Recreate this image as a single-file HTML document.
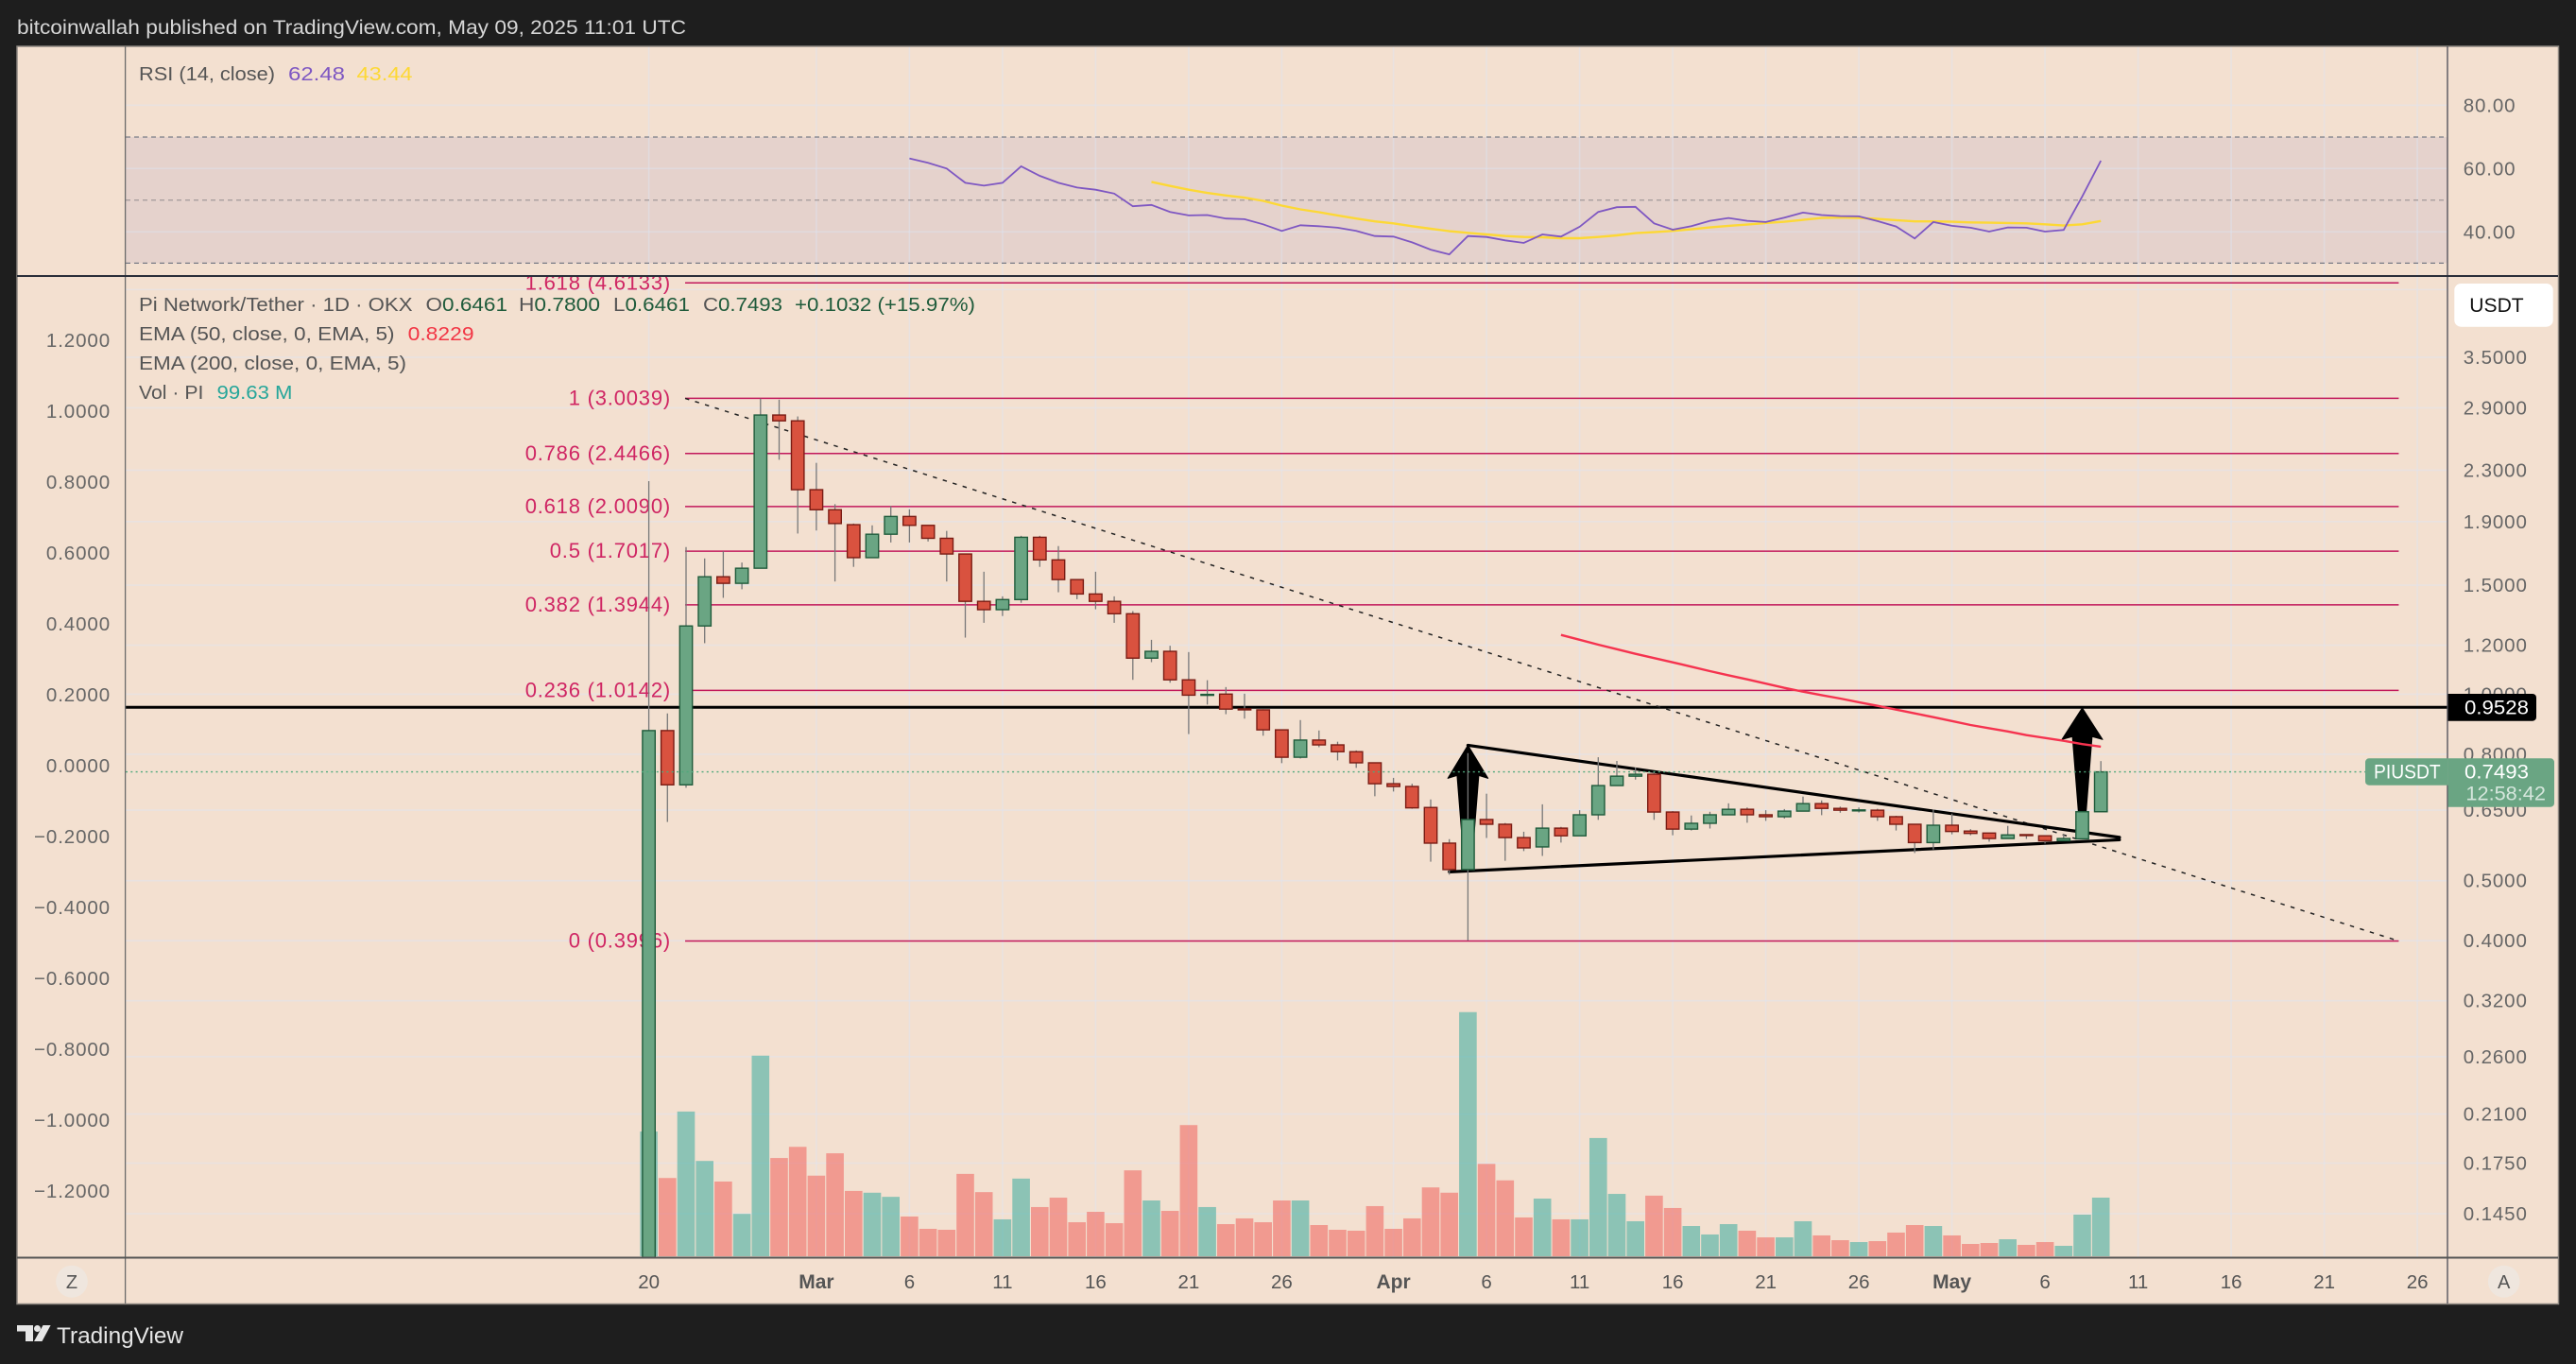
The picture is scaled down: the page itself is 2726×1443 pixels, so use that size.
<!DOCTYPE html>
<html lang="en">
<head>
<meta charset="utf-8">
<title>PIUSDT chart</title>
<style>
html,body{margin:0;padding:0;background:#1e1e1e;width:2726px;height:1443px;overflow:hidden}
svg{display:block;font-family:"Liberation Sans",sans-serif}
.leg{font-size:20.5px;fill:#555}
.ax{font-size:20.5px;fill:#666;letter-spacing:.9px}
</style>
</head>
<body>
<svg id="chart" xmlns="http://www.w3.org/2000/svg" width="2726" height="1443" viewBox="0 0 2726 1443">
  <defs><clipPath id="mainClip"><rect x="133" y="293" width="2457" height="1037"/></clipPath></defs>
  <rect x="0" y="0" width="2726" height="1443" fill="#1e1e1e"/>
  <text x="18" y="36" font-size="21.5" fill="#d6d6d6" textLength="708" lengthAdjust="spacingAndGlyphs">bitcoinwallah published on TradingView.com, May 09, 2025 11:01 UTC</text>
  <rect x="18" y="49" width="2689.5" height="1330.5" fill="#f3e0d0" stroke="#8c8680" stroke-width="1.5"/>
  <rect x="133" y="145" width="2457" height="133.5" fill="#e5d2cc"/>
  <g id="gridLayer"></g>
  <line x1="133" x2="2590" y1="145" y2="145" stroke="#787b86" stroke-width="1.3" stroke-dasharray="5 4"/>
  <line x1="133" x2="2590" y1="211.7" y2="211.7" stroke="#a89e9e" stroke-width="1.3" stroke-dasharray="5 4"/>
  <line x1="133" x2="2590" y1="278.4" y2="278.4" stroke="#787b86" stroke-width="1.3" stroke-dasharray="5 4"/>
  <g id="rsiLayer"></g>
  <g clip-path="url(#mainClip)">
    <g id="volLayer"></g>
    <g id="drawLayer"></g>
    <g id="candleLayer"></g>
    <line id="lastLine" x1="133" x2="2590" stroke="#4fa87c" stroke-width="1.3" stroke-dasharray="2 3.3"/>
  </g>
  <line x1="132.6" x2="132.6" y1="49" y2="1379" stroke="#6b6b6b" stroke-width="1.3"/>
  <line x1="2590" x2="2590" y1="49" y2="1379" stroke="#4a4a55" stroke-width="1.3"/>
  <line x1="18" x2="2707" y1="292" y2="292" stroke="#2a2e39" stroke-width="2"/>
  <line x1="18" x2="2707" y1="1330.5" y2="1330.5" stroke="#555" stroke-width="2"/>
  <g id="axisLayer"></g>

  <text class="leg" x="147" y="85" textLength="144" lengthAdjust="spacingAndGlyphs">RSI (14, close)</text>
  <text class="leg" x="305" y="85" style="fill:#7e57c2" textLength="60" lengthAdjust="spacingAndGlyphs">62.48</text>
  <text class="leg" x="377.5" y="85" style="fill:#fdd835" textLength="59" lengthAdjust="spacingAndGlyphs">43.44</text>
  <text class="leg" x="147" y="329" textLength="289.5" lengthAdjust="spacingAndGlyphs">Pi Network/Tether · 1D · OKX</text>
  <text class="leg" x="450.5" y="329" textLength="86.5" lengthAdjust="spacingAndGlyphs">O<tspan fill="#1f5b3b">0.6461</tspan></text>
  <text class="leg" x="549" y="329" textLength="86" lengthAdjust="spacingAndGlyphs">H<tspan fill="#1f5b3b">0.7800</tspan></text>
  <text class="leg" x="649" y="329" textLength="81" lengthAdjust="spacingAndGlyphs">L<tspan fill="#1f5b3b">0.6461</tspan></text>
  <text class="leg" x="744" y="329" textLength="84" lengthAdjust="spacingAndGlyphs">C<tspan fill="#1f5b3b">0.7493</tspan></text>
  <text class="leg" x="841" y="329" style="fill:#1f5b3b" textLength="191" lengthAdjust="spacingAndGlyphs">+0.1032 (+15.97%)</text>
  <text class="leg" x="147" y="360" textLength="270.5" lengthAdjust="spacingAndGlyphs">EMA (50, close, 0, EMA, 5)</text>
  <text class="leg" x="431.6" y="360" style="fill:#f23645" textLength="70" lengthAdjust="spacingAndGlyphs">0.8229</text>
  <text class="leg" x="147" y="391" textLength="283" lengthAdjust="spacingAndGlyphs">EMA (200, close, 0, EMA, 5)</text>
  <text class="leg" x="147" y="422" textLength="68.4" lengthAdjust="spacingAndGlyphs">Vol · PI</text>
  <text class="leg" x="229.5" y="422" style="fill:#26a69a" textLength="80" lengthAdjust="spacingAndGlyphs">99.63 M</text>

  <rect x="2597.3" y="300" width="104.4" height="45.7" rx="7" fill="#ffffff"/>
  <text x="2613.3" y="330" font-size="21" fill="#111" textLength="57.4" lengthAdjust="spacingAndGlyphs">USDT</text>

  <path d="M2590.6 734H2680a4 4 0 0 1 4 4V758.7a4 4 0 0 1 -4 4H2590.6Z" fill="#000"/>
  <text x="2608" y="755.5" font-size="21" fill="#fff" textLength="68" lengthAdjust="spacingAndGlyphs">0.9528</text>
  <path d="M2590.6 802.3H2507a4 4 0 0 0 -4 4V826.7a4 4 0 0 0 4 4H2590.6Z" fill="#6aa583"/>
  <text x="2512" y="823.5" font-size="21" fill="#fff" textLength="70.7" lengthAdjust="spacingAndGlyphs">PIUSDT</text>
  <path d="M2590.6 802.3H2699a4 4 0 0 1 4 4V849.7a4 4 0 0 1 -4 4H2590.6Z" fill="#6aa583"/>
  <text x="2608" y="823.5" font-size="21" fill="#fff" textLength="68" lengthAdjust="spacingAndGlyphs">0.7493</text>
  <text x="2609.4" y="846.5" font-size="21" fill="#ffffff" fill-opacity=".72" textLength="84.6" lengthAdjust="spacingAndGlyphs">12:58:42</text>

  <ellipse cx="76" cy="1355.7" rx="16.8" ry="17" fill="#efe6de"/>
  <text x="76" y="1363" font-size="20" fill="#555" text-anchor="middle">Z</text>
  <ellipse cx="2649.7" cy="1355.7" rx="16.8" ry="17" fill="#efe6de"/>
  <text x="2649.7" y="1363" font-size="20" fill="#555" text-anchor="middle">A</text>

  <g fill="#e6e6e6">
    <path d="M18 1402H35V1419H27V1408.5H18Z"/>
    <circle cx="39.5" cy="1405.5" r="3.5"/>
    <path d="M45.5 1402H53.6L44.5 1419H36Z"/>
  </g>
  <text x="60" y="1421" font-size="24" fill="#e6e6e6" textLength="134" lengthAdjust="spacingAndGlyphs">TradingView</text>
</svg>
<script>
// ---- chart data ----
const openPrices = [0.11,0.8736,0.7141,1.2889,1.5476,1.5102,1.5974,2.8232,2.7629,2.1389,1.9852,1.8781,1.6615,1.8126,1.9364,1.8735,1.7854,1.6842,1.4124,1.3693,1.4217,1.7921,1.6477,1.5313,1.4516,1.4124,1.3487,1.1436,1.1729,1.055,0.9975,1.0005,0.9469,0.9436,0.876,0.7912,0.8433,0.8284,0.8076,0.775,0.717,0.7097,0.6564,0.5749,0.5211,0.6277,0.6167,0.5869,0.5669,0.6079,0.5908,0.6388,0.7121,0.7374,0.7427,0.6454,0.6057,0.6189,0.6388,0.652,0.6388,0.6343,0.6476,0.6659,0.6542,0.6498,0.6498,0.6343,0.6167,0.5761,0.6145,0.6013,0.5969,0.5849,0.5934,0.5908,0.5801,0.5841,0.6461];
const highPrices = [2.208,0.9311,1.7279,1.6567,1.7004,1.6315,3.0016,2.9885,2.8084,2.3633,2.027,1.8861,1.8735,2.013,1.9882,1.8735,1.8351,1.6842,1.5768,1.4389,1.802,1.802,1.7345,1.5313,1.5768,1.4389,1.3619,1.2241,1.1974,1.1697,1.0535,1.027,1.0019,0.9456,0.876,0.9084,0.8739,0.8382,0.8115,0.775,0.7328,0.717,0.6763,0.5835,0.8035,0.6909,0.6196,0.5998,0.6642,0.6108,0.6498,0.7912,0.7804,0.7616,0.7497,0.6476,0.6372,0.646,0.6666,0.6564,0.6498,0.6526,0.6836,0.6739,0.6586,0.6564,0.6533,0.6365,0.6167,0.6511,0.6416,0.6057,0.5969,0.613,0.594,0.5908,0.594,0.6461,0.78];
const lowPrices = [0.11,0.622,0.7065,1.209,1.431,1.4771,1.5974,2.3908,1.8173,1.8378,1.5205,1.6055,1.6615,1.7579,1.7579,1.7644,1.5205,1.2343,1.304,1.3374,1.405,1.6055,1.4609,1.4237,1.3712,1.304,1.055,1.1267,1.0437,0.8623,0.9623,0.9285,0.9133,0.857,0.774,0.7874,0.8213,0.782,0.7605,0.6844,0.6965,0.6533,0.5366,0.5113,0.4003,0.5861,0.5384,0.5582,0.5482,0.5761,0.5908,0.6269,0.7121,0.7281,0.6269,0.592,0.6026,0.607,0.6388,0.6202,0.6246,0.6299,0.6476,0.6379,0.6438,0.6443,0.6246,0.6026,0.5542,0.5616,0.594,0.592,0.5781,0.5849,0.5841,0.5741,0.5801,0.5841,0.6461];
const closePrices = [0.8736,0.7141,1.2889,1.5476,1.5102,1.5974,2.8232,2.7629,2.1389,1.9852,1.8861,1.6615,1.8126,1.9364,1.8735,1.7854,1.6842,1.4124,1.3693,1.4217,1.7921,1.6477,1.5313,1.4516,1.4124,1.3487,1.1436,1.1729,1.055,0.9965,0.9994,0.9462,0.9456,0.876,0.7912,0.8433,0.8284,0.8076,0.775,0.717,0.7097,0.6555,0.5749,0.5211,0.6277,0.6167,0.5869,0.5649,0.6079,0.5908,0.6388,0.7121,0.7374,0.7427,0.6454,0.6057,0.6189,0.6388,0.652,0.6388,0.6343,0.6476,0.6659,0.6542,0.6498,0.6505,0.6343,0.6167,0.5761,0.6145,0.6004,0.5961,0.5849,0.5928,0.5928,0.5801,0.5849,0.6461,0.7493];
const volumes = [212,133,246,162,127,72,341,167,186,137,175,111,108,101,67.5,46.6,45,140,109,62.7,132,83.6,99.6,57.8,75.5,56.2,146,94.8,77.1,223,83.6,54.6,64.3,57.8,94.8,94.8,53,45,43.4,85.2,46.6,64.3,117,108,415,157,129,65.9,98,62.7,62.7,201,106,59.5,103,82,51.4,37,54.6,43.4,32.1,32.1,59.5,35.4,27.3,24.1,25.7,40.2,53,51.4,35.4,20.9,22.5,28.9,19.3,24.1,17.7,70.7,99.63];
const rsiStart = 14;
const rsiValues = [63.2,61.8,60,55.5,54.6,55.5,60.7,57.7,55.5,54,53.3,52.1,48.1,48.5,46.3,45.2,45.3,44.2,44,42.4,40.3,42.1,41.8,41.3,40.3,38.7,38.5,36.7,34.4,32.9,38.7,38.4,37.3,36.5,39.2,38.5,41.6,46.3,47.8,47.9,42.7,40.7,41.8,43.5,44.4,43.5,43.1,44.5,46.1,45.3,45,44.9,43.4,41.7,37.9,43.1,41.9,41.3,40.1,41.4,41.3,40.1,40.6,51.2,62.48];
const rsiMaStart = 27;
const rsiMaValues = [55.8,54.5,53.3,52.3,51.5,50.8,49.8,48.3,47.1,46.2,45.2,44.2,43.3,42.7,41.8,41,40.2,39.7,39.2,38.7,38.4,38.3,38,38,38.4,38.9,39.6,39.9,40.3,40.8,41.4,41.9,42.3,42.8,43.2,43.8,44.4,44.5,44.4,44.1,43.7,43.3,43.3,43.2,43,42.9,42.8,42.7,42.4,42,42.4,43.44];
const emaStart = 49;
const ema50Values = [1.2467,1.2245,1.2024,1.1821,1.162,1.144,1.1259,1.1079,1.0898,1.0731,1.0568,1.0404,1.0241,1.0095,0.9968,0.9841,0.9708,0.9577,0.9446,0.9314,0.9183,0.9051,0.892,0.8813,0.8709,0.859,0.8501,0.8412,0.8308,0.8229];
const priceTicks = [3.5,2.9,2.3,1.9,1.5,1.2,1,0.8,0.65,0.5,0.4,0.32,0.26,0.21,0.175,0.145];
const hiddenPriceTicks = [4.5];
const rsiTicks = [80,60,40];
const leftTicks = [1.2,1,0.8,0.6,0.4,0.2,0,-0.2,-0.4,-0.6,-0.8,-1,-1.2];
const timeTickDays = [0,9,14,19,24,29,34,40,45,50,55,60,65,70,75,80,85,90,95];
const timeTickLabels = ['20','Mar','6','11','16','21','26','Apr','6','11','16','21','26','May','6','11','16','21','26'];
const fibRatios = ['1.618','1','0.786','0.618','0.5','0.382','0.236','0'];
const fibPrices = [4.6133,3.0039,2.4466,2.009,1.7017,1.3944,1.0142,0.3996];
const levelPrice = 0.9528;
const lastPrice = 0.7493;
const fibStartDay = 1.95;
const fibEndDay = 94;
const trendDays = [1.95,94];
const trendPrices = [3.0039,0.3996];
const wedgeUpperDays = [44,79];
const wedgeUpperPrices = [0.8272,0.5874];
const wedgeLowerDays = [43,79];
const wedgeLowerPrices = [0.5167,0.5821];
const arrowTipDays = [44,77];
const arrowTipPrices = [0.8272,0.9505];

// ---- axis functions ----
const xAt = function (day) { return 686.6 + 19.7 * day; };
const yPrice = function (p) { return 995.5 - 284.6 * Math.log(p / 0.3996); };
const yRsi = function (v) { return 178.3 - 3.35 * (v - 60); };
const yVol = function (v) { return 1329 - v * (62 / 99.63); };
const yLeft = function (v) { return 810 - 375 * v; };

const NS = 'http://www.w3.org/2000/svg';
function mk(tag, attrs, parent) {
  const el = document.createElementNS(NS, tag);
  for (const k in attrs) el.setAttribute(k, attrs[k]);
  parent.appendChild(el);
  return el;
}
const gridLayer = document.getElementById('gridLayer');
const axisLayer = document.getElementById('axisLayer');
const volLayer = document.getElementById('volLayer');
const drawLayer = document.getElementById('drawLayer');
const candleLayer = document.getElementById('candleLayer');
const rsiLayer = document.getElementById('rsiLayer');
const GRID = 'rgba(220,228,245,0.42)';

// vertical grid + time labels
timeTickDays.forEach(function (d, i) {
  const ln = mk('line', {x1: xAt(d), x2: xAt(d), y1: 50, y2: 1330, stroke: GRID, 'stroke-width': 1.6}, gridLayer);
  
  
  const lbl = timeTickLabels[i];
  const bold = isNaN(Number(lbl));
  const t = mk('text', {x: xAt(d), y: 1363, 'text-anchor': 'middle', 'font-size': bold ? 21 : 20.5, 'font-weight': bold ? 700 : 400, fill: '#555'}, axisLayer);
  t.textContent = lbl;
  
  
});
// horizontal grid
priceTicks.concat(hiddenPriceTicks).forEach(function (p) {
  const ln = mk('line', {x1: 133, x2: 2590, y1: yPrice(p), y2: yPrice(p), stroke: GRID, 'stroke-width': 1.6}, gridLayer);
  
  
});
rsiTicks.forEach(function (v) {
  const ln = mk('line', {x1: 133, x2: 2590, y1: yRsi(v), y2: yRsi(v), stroke: GRID, 'stroke-width': 1.6}, gridLayer);
  
  
  const t = mk('text', {x: 2606.7, y: yRsi(v) + 7, class: 'ax'}, axisLayer);
  t.textContent = v.toFixed(2);
  
  
});
priceTicks.forEach(function (p) {
  const t = mk('text', {x: 2606.7, y: yPrice(p) + 7, class: 'ax'}, axisLayer);
  t.textContent = p.toFixed(4);
  
  
});
leftTicks.forEach(function (v) {
  const t = mk('text', {x: 117, y: yLeft(v) + 7, class: 'ax', 'text-anchor': 'end'}, axisLayer);
  t.textContent = (v < 0 ? '\u2212' : '') + Math.abs(v).toFixed(4);
  
  
});

// RSI lines
function linePath(start, vals, yFn) {
  return vals.map(function (v, i) { return (i ? 'L' : 'M') + xAt(start + i).toFixed(1) + ' ' + yFn(v).toFixed(1); }).join('');
}
const rsiMaLine = mk('path', {d: linePath(rsiMaStart, rsiMaValues, yRsi), fill: 'none', stroke: '#fdd835', 'stroke-width': 2.4}, rsiLayer);


const rsiLine = mk('path', {d: linePath(rsiStart, rsiValues, yRsi), fill: 'none', stroke: '#7e57c2', 'stroke-width': 1.8}, rsiLayer);



// volume
volumes.forEach(function (v, i) {
  const up = closePrices[i] >= openPrices[i];
  const r = mk('rect', {x: xAt(i) - 9.3, y: yVol(v), width: 18.6, height: 1329 - yVol(v), fill: up ? '#26a69a' : '#ef5350', 'fill-opacity': 0.5}, volLayer);
  
  
});

// fib levels
fibPrices.forEach(function (p, i) {
  const ln = mk('line', {x1: xAt(fibStartDay), x2: xAt(fibEndDay), y1: yPrice(p), y2: yPrice(p), stroke: '#c2185b', 'stroke-width': 1.5}, drawLayer);
  
  
  const t = mk('text', {x: 710, y: yPrice(p) + 7, 'text-anchor': 'end', 'font-size': 22, 'letter-spacing': 0.8, fill: '#cf2563'}, drawLayer);
  t.textContent = fibRatios[i] + ' (' + p.toFixed(4) + ')';
  
  
});
// horizontal level
const levelLine = mk('line', {x1: 133, x2: 2590, y1: yPrice(levelPrice), y2: yPrice(levelPrice), stroke: '#000', 'stroke-width': 3}, drawLayer);


// dashed trend line
const trendLine = mk('line', {x1: xAt(trendDays[0]), y1: yPrice(trendPrices[0]), x2: xAt(trendDays[1]), y2: yPrice(trendPrices[1]), stroke: '#222', 'stroke-width': 1.5, 'stroke-dasharray': '4.5 6.5'}, drawLayer);


// wedge
const wedgeUpper = mk('line', {x1: xAt(wedgeUpperDays[0]), y1: yPrice(wedgeUpperPrices[0]), x2: xAt(wedgeUpperDays[1]), y2: yPrice(wedgeUpperPrices[1]), stroke: '#000', 'stroke-width': 3.2, 'stroke-linecap': 'round'}, drawLayer);


const wedgeLower = mk('line', {x1: xAt(wedgeLowerDays[0]), y1: yPrice(wedgeLowerPrices[0]), x2: xAt(wedgeLowerDays[1]), y2: yPrice(wedgeLowerPrices[1]), stroke: '#000', 'stroke-width': 3.2, 'stroke-linecap': 'round'}, drawLayer);


// arrows
function arrowPoints(x, y, hw, hh, iw, tw, len) {
  return [[x, y], [x + hw, y + hh], [x + iw, y + hh - 3], [x + tw, y + len], [x - tw, y + len], [x - iw, y + hh - 3], [x - hw, y + hh]]
    .map(function (p) { return p[0].toFixed(1) + ',' + p[1].toFixed(1); }).join(' ');
}
const arrowA = mk('polygon', {points: arrowPoints(xAt(arrowTipDays[0]), yPrice(arrowTipPrices[0]), 21.3, 35, 11.5, 6.5, 95), fill: '#000', stroke: '#000', 'stroke-width': 1, 'stroke-linejoin': 'round'}, drawLayer);


const arrowB = mk('polygon', {points: arrowPoints(xAt(arrowTipDays[1]), yPrice(arrowTipPrices[1]), 21.5, 33.4, 10.4, 4.2, 109), fill: '#000', stroke: '#000', 'stroke-width': 1, 'stroke-linejoin': 'round'}, drawLayer);


// EMA
const emaLine = mk('path', {d: linePath(emaStart, ema50Values, yPrice), fill: 'none', stroke: '#f5334f', 'stroke-width': 2.4}, drawLayer);



// candles
openPrices.forEach(function (o, i) {
  const c = closePrices[i];
  const up = c >= o;
  const g = mk('g', {}, candleLayer);
  
  
  const wick = mk('line', {x1: xAt(i), x2: xAt(i), y1: yPrice(highPrices[i]), y2: yPrice(lowPrices[i]), stroke: '#787878', 'stroke-width': 1.3}, g);
  
  
  const top = yPrice(Math.max(o, c));
  const h = Math.max(1, yPrice(Math.min(o, c)) - top);
  const body = mk('rect', {x: xAt(i) - 6.7, y: top, width: 13.4, height: h, fill: up ? '#6aa583' : '#d9523f', stroke: up ? '#1f5b3b' : '#7a1c14', 'stroke-width': 1.4}, g);
  
  
});

const lastLine = document.getElementById('lastLine');
lastLine.setAttribute('y1', yPrice(lastPrice));
lastLine.setAttribute('y2', yPrice(lastPrice));
</script>
</body>
</html>
